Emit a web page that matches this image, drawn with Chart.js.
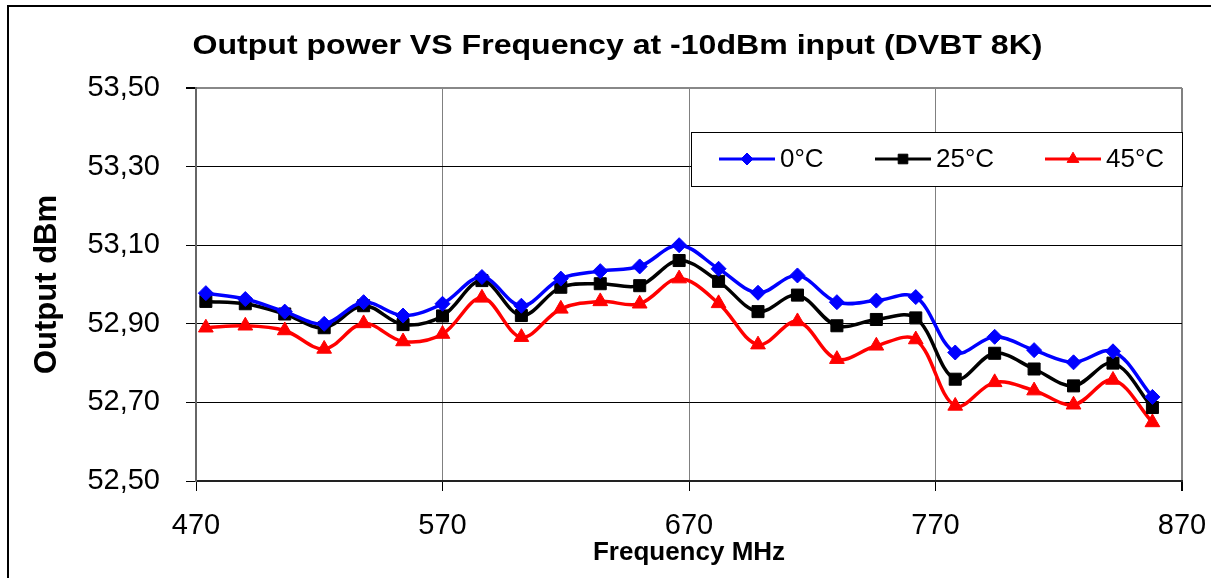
<!DOCTYPE html>
<html>
<head>
<meta charset="utf-8">
<title>Output power VS Frequency</title>
<script src="https://cdn.jsdelivr.net/npm/chart.js@4.4.1/dist/chart.umd.min.js"></script>
<style>
  html, body { margin: 0; padding: 0; background: #fff; }
  canvas { display: block; }
</style>
</head>
<body>
<canvas id="power-chart" width="1211" height="578"></canvas>
<script>
// Frequencies (MHz), every other UHF channel 21..69
const frequencies = [474, 490, 506, 522, 538, 554, 570, 586, 602, 618, 634, 650, 666,
  682, 698, 714, 730, 746, 762, 778, 794, 810, 826, 842, 858];

// Output power (dBm)
const temp0 = [52.978, 52.963, 52.931, 52.900, 52.955, 52.921, 52.951, 53.019, 52.946, 53.015,
  53.034, 53.046, 53.100, 53.040, 52.979, 53.023, 52.955, 52.959, 52.968, 52.827,
  52.867, 52.833, 52.802, 52.830, 52.714];
const temp25 = [52.957, 52.951, 52.925, 52.890, 52.946, 52.898, 52.920, 53.010, 52.921, 52.993,
  53.002, 52.997, 53.061, 53.008, 52.931, 52.973, 52.895, 52.911, 52.915, 52.759,
  52.825, 52.785, 52.742, 52.800, 52.687];
const temp45 = [52.890, 52.895, 52.883, 52.836, 52.901, 52.855, 52.874, 52.966, 52.866, 52.938,
  52.957, 52.951, 53.015, 52.952, 52.847, 52.906, 52.810, 52.844, 52.860, 52.691,
  52.751, 52.730, 52.694, 52.757, 52.649];

const seriesLabels = ['0°C', '25°C', '45°C'];
const xTicks = [470, 570, 670, 770, 870];
const yTicks = [52.5, 52.7, 52.9, 53.1, 53.3, 53.5];
const chartTitle = 'Output power VS Frequency at -10dBm input (DVBT 8K)';

const toPoints = (vals) => vals.map((v, i) => ({ x: frequencies[i], y: v }));

const FONT = "'Liberation Sans', Arial, sans-serif";
Chart.defaults.font.family = FONT;
Chart.defaults.color = '#000';

// Outer frame of the chart object (cut off at right and bottom)
const framePlugin = {
  id: 'frame',
  afterDraw(chart) {
    const { ctx } = chart;
    ctx.save();
    ctx.strokeStyle = '#000';
    ctx.lineWidth = 2;
    ctx.strokeRect(8, 6, chart.width + 20, chart.height + 20);
    ctx.restore();
  },
};

// Title, a little wide like the original export
const stretchedTitle = {
  id: 'stretchedTitle',
  afterDraw(chart) {
    const { ctx } = chart;
    ctx.save();
    ctx.font = 'bold 28px ' + FONT;
    ctx.fillStyle = '#000';
    ctx.textAlign = 'center';
    ctx.textBaseline = 'middle';
    const w = ctx.measureText(chartTitle).width;
    const sx = 850 / w;
    ctx.translate(chart.width / 2 + 12, 46);
    ctx.scale(sx, 1);
    ctx.fillText(chartTitle, 0, 0);
    ctx.restore();
  },
};

// Boxed legend sitting in the upper right of the plot area
const boxLegend = {
  id: 'boxLegend',
  afterDatasetsDraw(chart) {
    const { ctx, chartArea } = chart;
    const w = 491, h = 54;
    const left = chartArea.right - w;
    const top = chartArea.top + 44;
    ctx.save();
    ctx.fillStyle = '#fff';
    ctx.fillRect(left, top, w, h);
    ctx.strokeStyle = '#000';
    ctx.lineWidth = 1;
    ctx.strokeRect(left + 0.5, top + 0.5, w, h);
    const starts = [28, 184, 354];
    const cy = top + h / 2;
    chart.data.datasets.forEach((ds, i) => {
      const x0 = left + starts[i];
      ctx.strokeStyle = ds.borderColor;
      ctx.lineWidth = 3;
      ctx.beginPath();
      ctx.moveTo(x0, cy);
      ctx.lineTo(x0 + 56, cy);
      ctx.stroke();
      ctx.fillStyle = ds.pointBackgroundColor;
      ctx.strokeStyle = ds.pointBorderColor;
      ctx.lineWidth = 1;
      Chart.helpers.drawPoint(ctx, {
        pointStyle: ds.pointStyle, radius: ds.pointRadius * 0.8, borderWidth: 1,
      }, x0 + 28, cy);
      ctx.fillStyle = '#000';
      ctx.font = '26px ' + FONT;
      ctx.textBaseline = 'middle';
      ctx.textAlign = 'left';
      ctx.fillText(ds.label, x0 + 61, cy + 1);
    });
    ctx.restore();
  },
};

const ctx = document.getElementById('power-chart');

new Chart(ctx, {
  type: 'line',
  data: {
    datasets: [
      // Blue, 0°C
      {
        label: seriesLabels[0],
        data: toPoints(temp0),
        borderColor: '#0000FF',
        backgroundColor: '#0000FF',
        borderWidth: 3.5,
        tension: 0.35,
        pointStyle: 'rectRot',
        pointRadius: 7.5,
        pointBackgroundColor: '#0000FF',
        pointBorderColor: '#0000FF',
        pointBorderWidth: 1,
      },
      // Black, 25°C
      {
        label: seriesLabels[1],
        data: toPoints(temp25),
        borderColor: '#000000',
        backgroundColor: '#000000',
        borderWidth: 3.5,
        tension: 0.35,
        pointStyle: 'rect',
        pointRadius: 8.5,
        pointBackgroundColor: '#000000',
        pointBorderColor: '#000000',
        pointBorderWidth: 1,
      },
      // Red, 45°C
      {
        label: seriesLabels[2],
        data: toPoints(temp45),
        borderColor: '#FF0000',
        backgroundColor: '#FF0000',
        borderWidth: 3.5,
        tension: 0.35,
        pointStyle: 'triangle',
        pointRadius: 8.5,
        pointBackgroundColor: '#FF0000',
        pointBorderColor: '#FF0000',
        pointBorderWidth: 1,
      },
    ],
  },
  options: {
    responsive: false,
    animation: false,
    layout: {
      padding: { left: 25, right: 29, top: 88, bottom: 0 },
    },
    scales: {
      x: {
        type: 'linear',
        min: 470,
        max: 870,
        afterBuildTicks: (scale) => { scale.ticks = xTicks.map(v => ({ value: v })); },
        afterFit: (scale) => {
          scale.height = 97;
          scale.paddingLeft = 0;
          scale.paddingRight = 0;
        },
        ticks: {
          font: { size: 29 },
          padding: 18,
          maxRotation: 0,
          callback: (v) => String(v),
        },
        grid: {
          color: '#808080',
          lineWidth: (c) => (c.tick && c.tick.value === 870 ? 2 : 1),
          tickLength: 10,
          tickColor: '#000',
        },
        border: { color: '#222', width: 2 },
        title: {
          display: true,
          text: 'Frequency MHz',
          font: { size: 26, weight: 'bold' },
          padding: { top: 0, bottom: 10 },
        },
      },
      y: {
        min: 52.5,
        max: 53.5,
        afterBuildTicks: (scale) => { scale.ticks = yTicks.map(v => ({ value: v })); },
        afterFit: (scale) => {
          scale.width = 171;
          scale.paddingTop = 0;
          scale.paddingBottom = 0;
        },
        ticks: {
          font: { size: 29 },
          padding: 26,
          callback: (v) => v.toFixed(2).replace('.', ','),
        },
        grid: {
          color: (c) => (c.tick && c.tick.value === 53.5 ? '#888' : '#000'),
          lineWidth: (c) => (c.tick && c.tick.value === 53.5 ? 2 : 1),
          tickLength: 10,
          tickColor: '#000',
        },
        border: { color: '#666', width: 2 },
        title: {
          display: true,
          text: 'Output dBm',
          font: { size: 31, weight: 'bold' },
          padding: { top: 4, bottom: 0 },
        },
      },
    },
    plugins: {
      title: { display: false },
      legend: { display: false },
      tooltip: { enabled: false },
    },
  },
  plugins: [boxLegend, stretchedTitle, framePlugin],
});
</script>
</body>
</html>
